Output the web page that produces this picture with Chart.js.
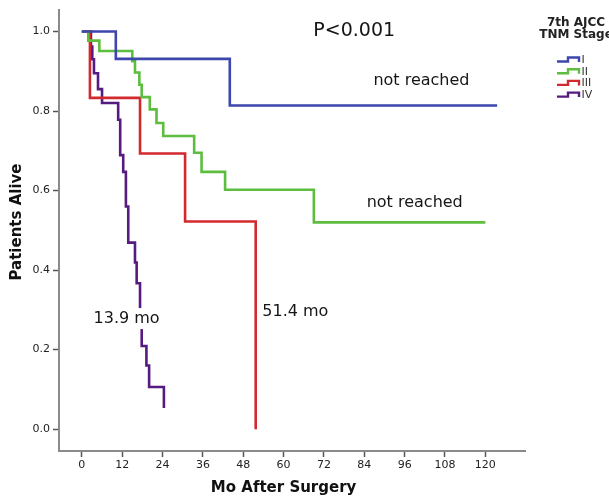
<!DOCTYPE html>
<html>
<head>
<meta charset="utf-8">
<script src="https://cdn.jsdelivr.net/npm/chart.js@4/dist/chart.umd.min.js"></script>
<style>
  html, body { margin: 0; padding: 0; background: #fff; }
  #wrap { position: relative; width: 609px; height: 498px; }
</style>
</head>
<body>
<div id="wrap"><canvas id="c" width="609" height="498"></canvas></div>
<script>
// ---- data ----
const stageNames = ['I', 'II', 'III', 'IV'];
const stageColors = ['#3c46ac', '#5cbd3e', '#d2292e', '#561b80'];

const monthsI = [0, 10.1, 44.0, 123.5];
const survI   = [1.0, 0.931, 0.814, 0.814];

const monthsII = [0, 1.9, 5.2, 15.0, 15.8, 17.1, 17.8, 20.2, 22.2, 24.2, 33.4, 35.6, 42.6, 69.0, 120.0];
const survII   = [1.0, 0.977, 0.951, 0.925, 0.897, 0.866, 0.835, 0.804, 0.770, 0.737, 0.695, 0.647, 0.602, 0.520, 0.520];

const monthsIII = [0, 2.4, 17.3, 30.7, 51.7];
const survIII   = [1.0, 0.833, 0.693, 0.522, 0.0];

const monthsIV = [0, 2.7, 3.1, 3.6, 4.8, 6.0, 10.8, 11.4, 12.3, 13.1, 13.8, 15.8, 16.3, 17.3, 17.8, 19.2, 20.0, 24.4];
const survIV   = [1.0, 0.962, 0.930, 0.895, 0.855, 0.820, 0.778, 0.689, 0.647, 0.560, 0.469, 0.419, 0.367, 0.262, 0.209, 0.160, 0.106, 0.053];

const xTicks = [0, 12, 24, 36, 48, 60, 72, 84, 96, 108, 120];
const yTicks = [0.0, 0.2, 0.4, 0.6, 0.8, 1.0];

const xTitle = 'Mo After Surgery';
const yTitle = 'Patients Alive';
const pValueText = 'P<0.001';
const legendTitle = ['7th AJCC', 'TNM Stage'];
// annotations: [text, month, survival]
const annotations = [
  ['not reached', 101, 0.877],
  ['not reached', 99, 0.569],
  ['51.4 mo', 63.5, 0.295],
  ['13.9 mo', 13.3, 0.278]
];
// ----------------------------------------

const seriesMonths = [monthsI, monthsII, monthsIII, monthsIV];
const seriesSurv = [survI, survII, survIII, survIV];

const datasets = stageNames.map((name, k) => ({
  label: name,
  data: seriesMonths[k].map((m, i) => ({ x: m, y: seriesSurv[k][i] })),
  borderColor: stageColors[k],
  backgroundColor: stageColors[k],
  borderWidth: 2.6,
  pointRadius: 0,
  stepped: 'before',
  fill: false,
  tension: 0,
  borderCapStyle: 'butt',
  borderJoinStyle: 'miter'
}));

const FONT = '"DejaVu Sans", sans-serif';

const overlay = {
  id: 'overlay',
  afterDatasetsDraw(chart) {
    const ctx = chart.ctx;
    const xs = chart.scales.x, ys = chart.scales.y;
    ctx.save();
    // annotations
    ctx.font = '16px ' + FONT;
    ctx.textAlign = 'center';
    ctx.textBaseline = 'middle';
    annotations.forEach(([t, m, s]) => {
      const px = xs.getPixelForValue(m), py = ys.getPixelForValue(s);
      const w = ctx.measureText(t).width;
      if (t === '13.9 mo') {
        ctx.fillStyle = '#fff';
        ctx.fillRect(px - w / 2 - 1, py - 10.5, w + 2, 21);
      }
      ctx.fillStyle = '#151515';
      ctx.fillText(t, px, py);
    });
    // p value
    ctx.font = '19px ' + FONT;
    ctx.fillStyle = '#151515';
    ctx.fillText(pValueText, xs.getPixelForValue(81), ys.getPixelForValue(1.0));

    // axis titles
    ctx.font = 'bold 15px ' + FONT;
    ctx.fillStyle = '#111';
    ctx.fillText(xTitle, (xs.getPixelForValue(0) + xs.getPixelForValue(120)) / 2, 488);
    ctx.save();
    ctx.translate(17, 222);
    ctx.rotate(-Math.PI / 2);
    ctx.fillText(yTitle, 0, 0);
    ctx.restore();

    // legend
    ctx.font = 'bold 12px ' + FONT;
    ctx.fillStyle = '#222';
    ctx.fillText(legendTitle[0], 576, 23);
    ctx.fillText(legendTitle[1], 576, 35);
    ctx.font = '11px ' + FONT;
    ctx.textAlign = 'left';
    stageNames.forEach((name, k) => {
      const cy = 59.5 + k * 11.7;
      ctx.strokeStyle = stageColors[k];
      ctx.lineWidth = 2.4;
      ctx.beginPath();
      ctx.moveTo(557, cy + 2);
      ctx.lineTo(568, cy + 2);
      ctx.lineTo(568, cy - 2);
      ctx.lineTo(579, cy - 2);
      ctx.lineTo(579, cy + 2.5);
      ctx.stroke();
      ctx.fillStyle = '#333';
      ctx.fillText(name, 581.5, cy + 0.5);
    });
    ctx.restore();
  }
};

new Chart(document.getElementById('c'), {
  type: 'line',
  data: { datasets },
  plugins: [overlay],
  options: {
    responsive: false,
    animation: false,
    events: [],
    layout: { padding: { left: 0, right: 84, top: 8, bottom: 0 } },
    plugins: { legend: { display: false }, tooltip: { enabled: false } },
    scales: {
      x: {
        type: 'linear',
        min: -6.8,
        max: 131.8,
        afterBuildTicks(scale) { scale.ticks = xTicks.map(v => ({ value: v })); },
        afterFit(scale) { scale.height = 47; },
        grid: { display: true, drawOnChartArea: false, drawTicks: true, tickLength: 6, tickColor: '#555', tickWidth: 1.5 },
        border: { display: true, color: '#8a8a8a', width: 2 },
        ticks: { font: { family: FONT, size: 11 }, color: '#222', padding: 2, maxRotation: 0, autoSkip: false }
      },
      y: {
        type: 'linear',
        min: -0.055,
        max: 1.055,
        afterBuildTicks(scale) { scale.ticks = yTicks.map(v => ({ value: v })); },
        afterFit(scale) { scale.width = 59; },
        grid: { display: true, drawOnChartArea: false, drawTicks: true, tickLength: 6, tickColor: '#555', tickWidth: 1.5 },
        border: { display: true, color: '#8a8a8a', width: 2 },
        ticks: { font: { family: FONT, size: 11 }, color: '#222', padding: 3, callback: v => v.toFixed(1), autoSkip: false }
      }
    }
  }
});
</script>
</body>
</html>
